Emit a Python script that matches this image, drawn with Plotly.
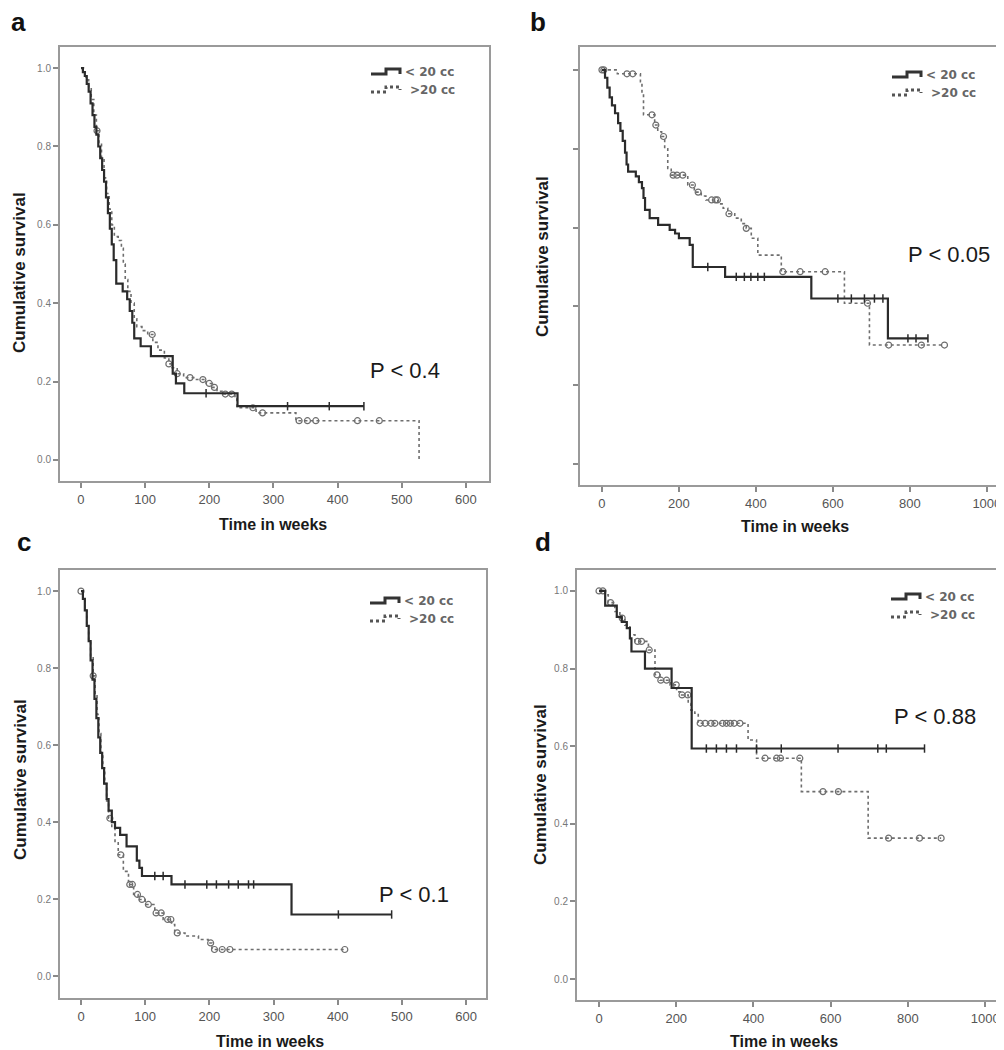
import plotly.graph_objects as go

# ---------------- DATA ----------------
# Panel a
A_LT20_T = [0, 3, 6, 9, 12, 15, 18, 21, 24, 27, 30, 33, 36, 39, 42, 45, 48, 51, 55, 65, 72, 76, 80, 83, 93, 109, 143, 148, 161, 244]
A_LT20_S = [1.0, 0.99, 0.98, 0.96, 0.94, 0.91, 0.88, 0.85, 0.83, 0.80, 0.77, 0.74, 0.71, 0.67, 0.63, 0.59, 0.55, 0.51, 0.45, 0.43, 0.41, 0.38, 0.35, 0.31, 0.29, 0.265, 0.22, 0.195, 0.17, 0.137]
A_LT20_END = 441
A_LT20_CENS = [195, 322, 387, 441]

A_GT20_T = [0, 4, 8, 12, 16, 20, 24, 28, 32, 36, 40, 44, 48, 52, 58, 63, 66, 69, 73, 78, 83, 87, 95, 104, 112, 120, 130, 137, 142, 150, 160, 180, 195, 205, 212, 222, 240, 243, 273, 335, 527]
A_GT20_S = [1.0, 0.99, 0.97, 0.95, 0.92, 0.88, 0.84, 0.81, 0.77, 0.72, 0.68, 0.64, 0.60, 0.57, 0.56, 0.54, 0.50, 0.46, 0.43, 0.40, 0.36, 0.34, 0.33, 0.32, 0.30, 0.28, 0.26, 0.245, 0.235, 0.22, 0.21, 0.205, 0.195, 0.185, 0.175, 0.168, 0.155, 0.133, 0.12, 0.10, 0.0]
A_GT20_END = 527
A_GT20_CENS = [25, 111, 137, 150, 170, 190, 200, 208, 225, 235, 268, 283, 340, 353, 366, 431, 465]

# Panel b
B_LT20_T = [0, 8, 14, 20, 26, 34, 42, 48, 54, 60, 64, 68, 88, 96, 104, 108, 112, 124, 146, 176, 190, 200, 228, 236, 320, 544, 743]
B_LT20_S = [1.0, 0.98, 0.955, 0.93, 0.91, 0.89, 0.865, 0.845, 0.82, 0.79, 0.76, 0.742, 0.73, 0.715, 0.70, 0.675, 0.645, 0.624, 0.607, 0.594, 0.585, 0.573, 0.556, 0.50, 0.475, 0.42, 0.319]
B_LT20_END = 847
B_LT20_CENS = [275, 349, 370, 387, 405, 422, 613, 648, 682, 708, 730, 795, 816, 847]

B_GT20_T = [0, 40, 100, 104, 108, 137, 145, 155, 163, 171, 180, 223, 240, 258, 270, 301, 315, 327, 345, 362, 375, 388, 405, 466, 630, 695]
B_GT20_S = [1.0, 0.99, 0.97, 0.94, 0.886, 0.86, 0.843, 0.831, 0.80, 0.75, 0.733, 0.708, 0.69, 0.68, 0.67, 0.66, 0.649, 0.635, 0.624, 0.61, 0.598, 0.573, 0.53, 0.488, 0.408, 0.302]
B_GT20_END = 890
B_GT20_CENS = [0, 5, 65, 80, 130, 140, 160, 185, 195, 210, 235, 250, 285, 295, 300, 330, 375, 470, 515, 580, 690, 745, 830, 890]

# Panel c
C_LT20_T = [0, 3, 6, 9, 12, 15, 18, 21, 24, 27, 30, 33, 36, 40, 43, 48, 53, 61, 71, 87, 91, 95, 141, 328]
C_LT20_S = [1.0, 0.98, 0.95, 0.91, 0.87, 0.82, 0.77, 0.72, 0.67, 0.62, 0.58, 0.54, 0.50, 0.46, 0.43, 0.40, 0.385, 0.367, 0.337, 0.30, 0.281, 0.26, 0.238, 0.16]
C_LT20_END = 484
C_LT20_CENS = [115, 128, 162, 196, 211, 230, 245, 261, 269, 401, 484]

C_GT20_T = [0, 3, 6, 9, 12, 15, 19, 22, 25, 28, 31, 34, 37, 40, 43, 48, 53, 58, 66, 74, 82, 89, 100, 115, 128, 141, 146, 162, 183, 198, 204]
C_GT20_S = [1.0, 0.98, 0.95, 0.91, 0.87, 0.83, 0.78, 0.73, 0.68, 0.63, 0.58, 0.54, 0.50, 0.455, 0.41, 0.385, 0.35, 0.315, 0.272, 0.238, 0.212, 0.199, 0.186, 0.164, 0.147, 0.134, 0.112, 0.104, 0.095, 0.086, 0.069]
C_GT20_END = 411
C_GT20_CENS = [0, 19, 45, 62, 76, 80, 88, 95, 105, 117, 125, 135, 140, 150, 202, 208, 220, 232, 411]

# Panel d
D_LT20_T = [0, 16, 46, 59, 72, 80, 84, 119, 188, 240]
D_LT20_S = [1.0, 0.962, 0.933, 0.92, 0.904, 0.878, 0.844, 0.80, 0.75, 0.594]
D_LT20_END = 843
D_LT20_CENS = [278, 304, 330, 356, 408, 472, 619, 722, 744, 843]

D_GT20_T = [0, 16, 24, 41, 54, 67, 80, 93, 128, 145, 158, 184, 201, 214, 231, 238, 248, 257, 386, 408, 524, 697]
D_GT20_S = [1.0, 0.99, 0.97, 0.947, 0.93, 0.912, 0.887, 0.87, 0.848, 0.784, 0.77, 0.758, 0.74, 0.732, 0.71, 0.693, 0.685, 0.659, 0.616, 0.569, 0.483, 0.363]
D_GT20_END = 886
D_GT20_CENS = [0, 10, 30, 60, 100, 110, 130, 150, 160, 175, 200, 215, 230, 262, 275, 290, 300, 320, 330, 340, 350, 365, 430, 460, 470, 520, 580, 620, 750, 830, 886]

PANEL_LABELS = ["a", "b", "c", "d"]
P_TEXTS = ["P < 0.4", "P < 0.05", "P < 0.1", "P < 0.88"]
LEGEND_LABELS = ["< 20 cc", ">20 cc"]
Y_TICKS = [0.0, 0.2, 0.4, 0.6, 0.8, 1.0]
X_TICKS_600 = [0, 100, 200, 300, 400, 500, 600]
X_TICKS_1000 = [0, 200, 400, 600, 800, 1000]

# ---------------- FIGURE ----------------
W, H = 1004, 1050
FONT = "Arial, Liberation Sans, sans-serif"
SOLID_C = "#2b2b2b"
DOT_C = "#6e6e6e"


def px(x):
    return x / W


def py(y):
    return 1 - y / H


def surv_at(times, surv, t):
    s = surv[0]
    for ti, si in zip(times, surv):
        if ti <= t:
            s = si
    return s


def km_traces(times, surv, end, cens, solid, ax):
    xs = list(times) + [end]
    ys = list(surv) + [surv[-1]]
    xa = "x" if ax == 1 else f"x{ax}"
    ya = "y" if ax == 1 else f"y{ax}"
    line = dict(color=SOLID_C, width=2.2, shape="hv") if solid else dict(color=DOT_C, width=1.6, dash="dot", shape="hv")
    out = [go.Scatter(x=xs, y=ys, mode="lines", line=line, xaxis=xa, yaxis=ya, showlegend=False, hoverinfo="skip")]
    cy = [surv_at(times, surv, t) for t in cens]
    if solid:
        mk = dict(symbol="line-ns", size=6, line=dict(color=SOLID_C, width=1.5))
    else:
        mk = dict(symbol="circle-open", size=6, color=DOT_C, line=dict(color=DOT_C, width=1.2))
    out.append(go.Scatter(x=cens, y=cy, mode="markers", marker=mk, xaxis=xa, yaxis=ya, showlegend=False, hoverinfo="skip"))
    return out


fig = go.Figure()
panel_data = [
    (A_LT20_T, A_LT20_S, A_LT20_END, A_LT20_CENS, A_GT20_T, A_GT20_S, A_GT20_END, A_GT20_CENS),
    (B_LT20_T, B_LT20_S, B_LT20_END, B_LT20_CENS, B_GT20_T, B_GT20_S, B_GT20_END, B_GT20_CENS),
    (C_LT20_T, C_LT20_S, C_LT20_END, C_LT20_CENS, C_GT20_T, C_GT20_S, C_GT20_END, C_GT20_CENS),
    (D_LT20_T, D_LT20_S, D_LT20_END, D_LT20_CENS, D_GT20_T, D_GT20_S, D_GT20_END, D_GT20_CENS),
]
for i, d in enumerate(panel_data, start=1):
    for tr in km_traces(d[4], d[5], d[6], d[7], False, i):
        fig.add_trace(tr)
    for tr in km_traces(d[0], d[1], d[2], d[3], True, i):
        fig.add_trace(tr)

# panel geometry in pixels: (left, right, top, bottom), x range, y range
geom = [
    ((52, 481, 39, 473), [-32.7, 636], [-0.054, 1.054], X_TICKS_600, True),
    ((572, 1000, 39, 477), [-57, 1055], [-0.053, 1.058], X_TICKS_1000, False),
    ((52, 478, 562, 990), [-32.7, 631], [-0.057, 1.055], X_TICKS_600, True),
    ((569, 998, 562, 992), [-57, 1054], [-0.054, 1.054], X_TICKS_1000, True),
]
layout = dict(
    width=W, height=H, margin=dict(l=0, r=0, t=0, b=0),
    paper_bgcolor="white", plot_bgcolor="white", showlegend=False,
    font=dict(family=FONT),
)
for i, (g, xr, yr, xt, ylab) in enumerate(geom, start=1):
    l, r, t, b = g
    xk = "xaxis" if i == 1 else f"xaxis{i}"
    yk = "yaxis" if i == 1 else f"yaxis{i}"
    ya = "y" if i == 1 else f"y{i}"
    xa = "x" if i == 1 else f"x{i}"
    layout[xk] = dict(
        domain=[px(l), px(r)], range=xr, anchor=ya, tickvals=xt,
        showline=True, mirror=True, linecolor="#9a9a9a", linewidth=2,
        ticks="outside", ticklen=5, tickcolor="#8a8a8a", tickwidth=1.5,
        showgrid=False, zeroline=False,
        tickfont=dict(size=13, color="#555555", family=FONT),
    )
    layout[yk] = dict(
        domain=[py(b), py(t)], range=yr, anchor=xa, tickvals=Y_TICKS,
        ticktext=[f"{v:.1f}" for v in Y_TICKS],
        showticklabels=ylab,
        showline=True, mirror=True, linecolor="#9a9a9a", linewidth=2,
        ticks="outside", ticklen=5, tickcolor="#8a8a8a", tickwidth=1.5,
        showgrid=False, zeroline=False,
        tickfont=dict(size=10, color="#777777", family=FONT),
    )
fig.update_layout(**layout)

ann = []
# panel letters
for lab, (x, y) in zip(PANEL_LABELS, [(10, 14), (530, 14), (16, 534), (535, 534)]):
    ann.append(dict(text=f"<b>{lab}</b>", x=px(x), y=py(y), xref="paper", yref="paper",
                    xanchor="center", yanchor="middle", showarrow=False,
                    font=dict(size=26, color="#111111", family=FONT)))
# y titles
for (x, y) in [(11, 265), (535, 249), (12, 772), (532, 777)]:
    ann.append(dict(text="<b>Cumulative survival</b>", x=px(x), y=py(y), xref="paper", yref="paper",
                    xanchor="center", yanchor="middle", showarrow=False, textangle=-90,
                    font=dict(size=17, color="#1a1a1a", family=FONT)))
# x titles
for (x, y) in [(265, 516), (787, 519), (262, 1033), (776, 1033)]:
    ann.append(dict(text="<b>Time in weeks</b>", x=px(x), y=py(y), xref="paper", yref="paper",
                    xanchor="center", yanchor="middle", showarrow=False,
                    font=dict(size=16, color="#1a1a1a", family=FONT)))
# P values
for txt, (x, y) in zip(P_TEXTS, [(397, 362), (941, 246), (406, 886), (927, 708)]):
    ann.append(dict(text=txt, x=px(x), y=py(y), xref="paper", yref="paper",
                    xanchor="center", yanchor="middle", showarrow=False,
                    font=dict(size=22, color="#1a1a1a", family=FONT)))

# legends: symbol start x, first row y
shapes = []
for (sx, sy) in [(363, 64), (884, 67), (362, 593), (883, 589)]:
    row2 = sy + 18
    path1 = (f"M {px(sx)},{py(sy+2)} L {px(sx+15)},{py(sy+2)} L {px(sx+15)},{py(sy-3)} "
             f"L {px(sx+29)},{py(sy-3)} L {px(sx+29)},{py(sy+2)}")
    shapes.append(dict(type="path", path=path1, xref="paper", yref="paper",
                       line=dict(color="#333333", width=3)))
    path2 = (f"M {px(sx)},{py(row2+2)} L {px(sx+15)},{py(row2+2)} L {px(sx+15)},{py(row2-3)} "
             f"L {px(sx+29)},{py(row2-3)} L {px(sx+29)},{py(row2)}")
    shapes.append(dict(type="path", path=path2, xref="paper", yref="paper",
                       line=dict(color="#555555", width=3, dash="dot")))
    ann.append(dict(text="<b>" + LEGEND_LABELS[0] + "</b>", x=px(sx + 32), y=py(sy), xref="paper", yref="paper",
                    xanchor="left", yanchor="middle", showarrow=False,
                    font=dict(size=12, color="#666666", family="DejaVu Sans, Verdana, sans-serif")))
    ann.append(dict(text="<b>" + LEGEND_LABELS[1] + "</b>", x=px(sx + 37), y=py(row2), xref="paper", yref="paper",
                    xanchor="left", yanchor="middle", showarrow=False,
                    font=dict(size=12, color="#666666", family="DejaVu Sans, Verdana, sans-serif")))

fig.update_layout(annotations=ann, shapes=shapes)
fig.write_html("out.html")
